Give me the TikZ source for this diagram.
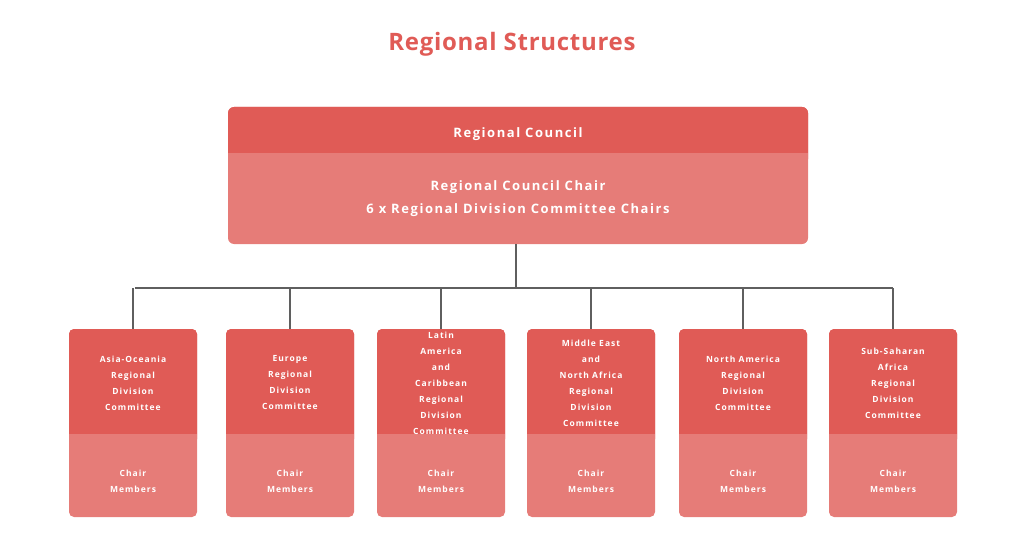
\documentclass[tikz,border=0pt]{standalone}
\usepackage{fontspec}
\setmainfont{Open Sans}[LetterSpace=12]
\newfontfamily\titlefont{Open Sans}[LetterSpace=3]
\definecolor{HeadRed}{RGB}{224, 91, 86}
\definecolor{BodyRed}{RGB}{230, 124, 120}
\definecolor{LineGray}{RGB}{95, 95, 95}
\usetikzlibrary{positioning}
\begin{document}
\begin{tikzpicture}[x=1pt, y=-1pt,
    boxtext/.style={text=white, font=\bfseries\fontsize{8.5}{16}\selectfont, align=center},
    bigtext/.style={text=white, font=\bfseries\fontsize{13}{23}\selectfont, align=center},
    link/.style={draw=LineGray, line width=1.3pt}]
    \useasboundingbox (0,0) rectangle (1024,559);

    % Title
    \node[font=\titlefont\bfseries\fontsize{24}{28}\selectfont, text=HeadRed] (title) at (512,44) {Regional Structures};

    % Council box
    \fill[BodyRed, rounded corners=6] (228,107) rectangle (808,244);
    \fill[HeadRed, rounded corners=6] (228,107) rectangle (808,165);
    \fill[BodyRed] (228,153) rectangle (808,170);
    \node[bigtext] (council) at (518,134) {Regional Council};
    \node[bigtext] (chairs) at (518,199) {Regional Council Chair\\6 x Regional Division Committee Chairs};
    \coordinate (councilbot) at (516,244);
    \coordinate (busL) at (135,288);
    \coordinate (busR) at (893,288);
    \draw[link] (councilbot) -- (516,288);
    \draw[link] (busL) -- (busR);

    % Division committees
    \foreach \x/\name/\lbl in {
        133/asia/{Asia-Oceania\\Regional\\Division\\Committee},
        290/europe/{Europe\\Regional\\Division\\Committee},
        441/latam/{Latin\\America\\and\\Caribbean\\Regional\\Division\\Committee},
        591/mena/{Middle East\\and\\North Africa\\Regional\\Division\\Committee},
        743/namerica/{North America\\Regional\\Division\\Committee},
        893/ssafrica/{Sub-Saharan\\Africa\\Regional\\Division\\Committee}} {
        \fill[BodyRed, rounded corners=5] ({\x-64},329) rectangle ({\x+64},517);
        \fill[HeadRed, rounded corners=5] ({\x-64},329) rectangle ({\x+64},444);
        \fill[BodyRed] ({\x-64},434) rectangle ({\x+64},450);
        \node[boxtext] (\name) at (\x,383) {\lbl};
        \node[boxtext] (\name-m) at (\x,481) {Chair\\Members};
        \coordinate (\name-top) at (\x,329);
        \draw[link] (\x,288) -- (\name-top);
    }
\end{tikzpicture}
\end{document}
